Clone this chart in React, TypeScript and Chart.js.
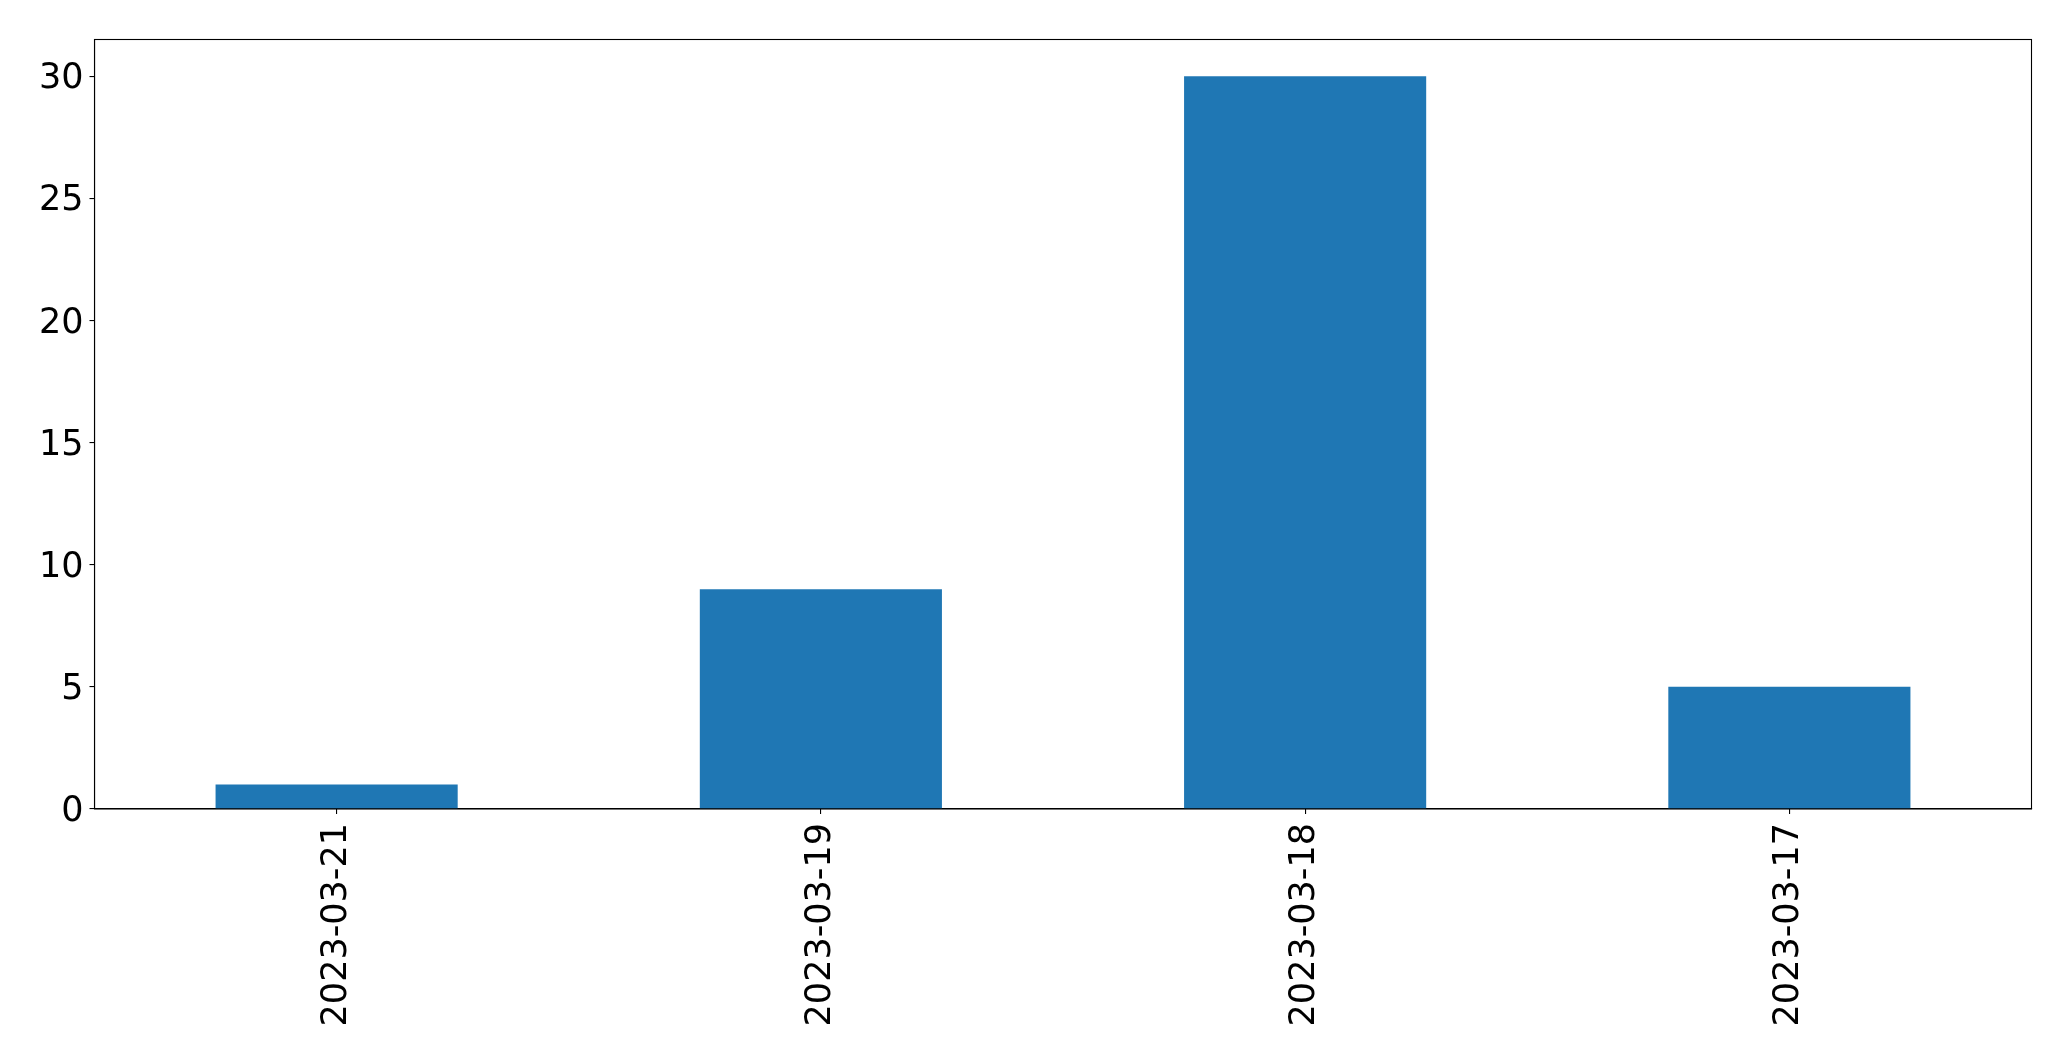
import React, { useEffect, useRef } from "react";
import { Chart, registerables } from "chart.js";

Chart.register(...registerables);

const CATEGORIES = ["2023-03-21", "2023-03-19", "2023-03-18", "2023-03-17"];
const VALUES = [1, 9, 30, 5];
const Y_TICKS = [0, 5, 10, 15, 20, 25, 30];
const Y_MAX = 31.5;

const W = 2071;
const H = 1061;

const boxPlugin = {
  id: "boxPlugin",
  afterDraw(chart: any) {
    const { ctx, chartArea } = chart;
    ctx.save();
    ctx.strokeStyle = "#000000";
    ctx.lineWidth = 1.1;
    ctx.strokeRect(chartArea.left, chartArea.top, chartArea.right - chartArea.left, chartArea.bottom - chartArea.top);
    ctx.restore();
  },
};

export default function App() {
  const ref = useRef<HTMLCanvasElement | null>(null);
  useEffect(() => {
    document.body.style.margin = "0";
    const canvas = ref.current;
    if (!canvas) return;
    const font = { family: "'DejaVu Sans'", size: 35 };
    const chart = new Chart(canvas, {
      type: "bar",
      data: {
        labels: CATEGORIES,
        datasets: [
          {
            data: VALUES,
            backgroundColor: "#1f77b4",
            borderWidth: 0,
            categoryPercentage: 1,
            barPercentage: 0.5,
          },
        ],
      },
      options: {
        animation: false,
        responsive: false,
        maintainAspectRatio: false,
        devicePixelRatio: 1,
        layout: { padding: { left: 0, right: 39.5, top: 39.5, bottom: 0 } },
        plugins: { legend: { display: false }, tooltip: { enabled: false } },
        scales: {
          x: {
            offset: true,
            grid: { display: true, offset: false, drawOnChartArea: false, drawTicks: true, tickLength: 5, color: "#000000", lineWidth: 1.1 },
            border: { display: true, color: "#000000", width: 1.1 },
            ticks: { color: "#000000", font, maxRotation: 90, minRotation: 90, padding: 9, autoSkip: false },
            afterFit(scale: any) {
              scale.height = H - 809;
            },
          },
          y: {
            min: 0,
            max: Y_MAX,
            grid: { display: true, drawOnChartArea: false, drawTicks: true, tickLength: 5, color: "#000000", lineWidth: 1.1 },
            border: { display: true, color: "#000000", width: 1.1 },
            ticks: { color: "#000000", font, padding: 6, labelOffset: 3 },
            afterBuildTicks(scale: any) {
              scale.ticks = Y_TICKS.map((v) => ({ value: v }));
            },
            afterFit(scale: any) {
              scale.width = 94.5;
            },
          },
        },
      },
      plugins: [boxPlugin],
    });
    return () => chart.destroy();
  }, []);
  return (
    <div style={{ width: W, height: H, background: "#ffffff" }}>
      <canvas ref={ref} width={W} height={H} style={{ display: "block", width: W, height: H }} />
    </div>
  );
}
